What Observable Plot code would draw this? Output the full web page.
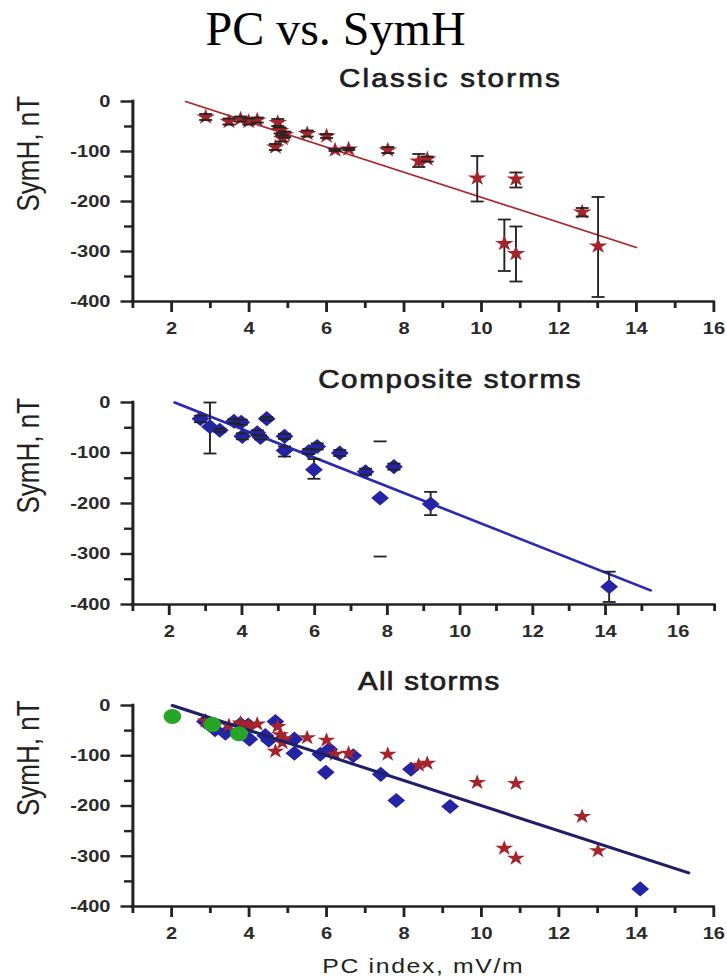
<!DOCTYPE html>
<html>
<head>
<meta charset="utf-8">
<script src="https://cdn.jsdelivr.net/npm/d3@7"></script>
<script src="https://cdn.jsdelivr.net/npm/@observablehq/plot@0.6"></script>
<style>
html, body { margin: 0; padding: 0; background: #fff; overflow: hidden; }
#wrap { position: relative; width: 727px; height: 979px; background: #fff; }
#wrap svg { position: absolute; left: 0; }
#title { position: absolute; left: 0; top: 5px; width: 671px; text-align: center;
  font-family: "Liberation Serif", "Times New Roman", serif; font-size: 48px; line-height: 48px; color: #000; z-index: 2; }
</style>
</head>
<body>
<div id="wrap"><div id="title">PC vs. SymH</div></div>
<script>
// ---------- data ----------
const titleText = "PC vs. SymH";
const subtitles = ["Classic storms", "Composite storms", "All storms"];
const yLabel = "SymH, nT";
const xLabel = "PC index, mV/m";

// Classic storms (stars) with error-bar limits
const classicPC   = [2.88, 3.48, 3.78, 3.99, 4.21, 4.74, 4.80, 4.92, 4.86, 4.68, 5.50, 6.00, 6.22, 6.57, 7.58, 8.38, 8.60, 9.89, 10.59, 10.89, 10.89, 12.60, 13.01];
const classicSymH = [-31, -40, -35, -40, -37, -42, -58, -66, -74, -91, -64, -69, -97, -95, -97, -119, -115, -153, -284, -304, -155, -221, -289];
const classicLo   = [-37, -46, -40, -46, -42, -49, -64, -72, -80, -97, -70, -73, -99, -97, -103, -131, -120, -200, -339, -360, -172, -230, -391];
const classicHi   = [-25, -34, -30, -34, -32, -35, -52, -60, -68, -85, -58, -65, -95, -93, -91, -105, -110, -109, -236, -250, -142, -213, -191];

// Composite storms (diamonds) with error-bar limits
const compPC   = [2.86, 3.12, 3.39, 3.78, 3.98, 4.68, 4.01, 4.42, 4.51, 5.17, 5.17, 5.84, 6.07, 5.98, 6.69, 7.40, 7.80, 8.18, 9.19, 14.10];
const compSymH = [-32, -48, -55, -37, -39, -32, -67, -60, -69, -67, -95, -97, -87, -133, -100, -137, -189, -127, -201, -365];
const compLo   = [-39, -101, -58, -41, -44, -35, -73, -65, -73, -72, -107, -102, -93, -151, -106, -143, -305, -133, -223, -395];
const compHi   = [-26, 0, -52, -33, -34, -29, -61, -55, -65, -62, -87, -92, -81, -112, -94, -131, -77, -121, -177, -335];
const compStem = [true, true, true, true, true, true, true, true, true, true, true, true, true, true, true, true, false, true, true, true];

// Extra points in "All storms" (green circles)
const quietPC   = [2.02, 3.05, 3.74];
const quietSymH = [-22, -38, -56];

// Regression lines (end points)
const fitClassicPC = [2.36, 14.0],  fitClassicSymH = [0, -292];
const fitCompPC    = [2.15, 15.24], fitCompSymH    = [0, -372];
const fitAllPC     = [2.02, 15.35], fitAllSymH     = [0, -333];

// Ticks
const yMajorTicks = [0, -100, -200, -300, -400];
const yMinorTicks = [-50, -150, -250, -350];
const xLabelTicks = [2, 4, 6, 8, 10, 12, 14, 16];

// ---------- build ----------
const W = 727, S = 1.18, WV = W / S;
const ink = "#222";
const starRed = "#a5232b";
const diamondBlue = "#2424a4";
const green = "#26a526";

const classic = classicPC.map((x, i) => ({x, y: classicSymH[i], lo: classicLo[i], hi: classicHi[i]}));
const comp = compPC.map((x, i) => ({x, y: compSymH[i], lo: compLo[i], hi: compHi[i], stem: compStem[i]}));
const quiet = quietPC.map((x, i) => ({x, y: quietSymH[i]}));
const toLine = (xs, ys) => xs.map((x, i) => ({x, y: ys[i]}));

const capSymbol = {
  draw(ctx, size) { const r = Math.sqrt(size / Math.PI); ctx.moveTo(-r, 0); ctx.lineTo(r, 0); }
};

function errorBars(data) {
  return [
    Plot.ruleX(data.filter(d => d.stem !== false), {x: "x", y1: "lo", y2: "hi", stroke: ink, strokeWidth: 1.6})
  ];
}
function caps(data) {
  return [
    Plot.dot(data, {x: "x", y: "lo", symbol: capSymbol, r: 5.5, stroke: ink, strokeWidth: 1.8, fill: "none"}),
    Plot.dot(data, {x: "x", y: "hi", symbol: capSymbol, r: 5.5, stroke: ink, strokeWidth: 1.8, fill: "none"})
  ];
}

const wrap = document.getElementById("wrap");

function makePanel({top, innerH, mb, xmax, mrReal, subtitle, subDx, subDy, subSpacing, marks, withXLabel}) {
  const H = 60 + innerH + mb;
  const xAll = d3.range(1, xmax + 1);
  const xMinor = xAll.filter(v => !xLabelTicks.includes(v));
  const tickStyle = {stroke: ink, strokeWidth: 2.4, fill: "#2a2a2a", fontSize: 17, fontWeight: "bold", label: null};
  const svg = Plot.plot({
    width: WV, height: H,
    marginTop: 60, marginBottom: mb, marginLeft: 132.3 / S, marginRight: mrReal / S,
    x: {domain: [1, xmax]},
    y: {domain: [-400, 0]},
    style: {fontFamily: "'Liberation Sans', Arial, sans-serif", background: "transparent", overflow: "visible"},
    marks: [
      ...marks,
      Plot.axisY(yMinorTicks, {...tickStyle, tickSize: 7, tickFormat: () => ""}),
      Plot.axisY(yMajorTicks, {...tickStyle, tickSize: 10, tickPadding: 9, tickFormat: d => String(d)}),
      Plot.axisX(xMinor, {...tickStyle, tickSize: 7, tickFormat: () => ""}),
      Plot.axisX(xLabelTicks, {...tickStyle, tickSize: 11, tickPadding: 9, tickFormat: d => String(d)}),
      Plot.ruleX([1], {stroke: ink, strokeWidth: 2.6, strokeLinecap: "square"}),
      Plot.ruleY([-400], {stroke: ink, strokeWidth: 2.6, strokeLinecap: "square"}),
      Plot.text([subtitle], {text: d => d, frameAnchor: "top", dx: subDx, dy: subDy, fontSize: 25, fill: "#1e1e1e", stroke: "#1e1e1e", strokeWidth: 0.7, lineAnchor: "middle"}),
      Plot.text([yLabel], {text: d => d, frameAnchor: "left", rotate: -90, dx: -88, dy: 10, fontSize: 26, fill: "#222", lineAnchor: "middle"}),
      withXLabel ? Plot.text([xLabel], {text: d => d, frameAnchor: "bottom", dy: 60, fontSize: 21, fill: "#222", lineAnchor: "middle"}) : null
    ]
  });
  svg.setAttribute("width", W);
  svg.setAttribute("height", H);
  svg.setAttribute("preserveAspectRatio", "none");
  svg.style.width = W + "px";
  svg.style.height = H + "px";
  svg.style.maxWidth = "none";
  svg.style.top = top + "px";
  d3.select(svg).selectAll("text").filter(function() { return this.textContent === xLabel; })
    .style("letter-spacing", "1.4px");
  d3.select(svg).selectAll("text").filter(function() { return this.textContent === subtitle; })
    .style("letter-spacing", subSpacing + "px");
  wrap.appendChild(svg);
}

makePanel({
  top: 41, innerH: 200, mb: 40, xmax: 16, mrReal: 13.7,
  subtitle: subtitles[0], subDx: 23, subDy: -23, subSpacing: 1.9,
  marks: [
    Plot.line(toLine(fitClassicPC, fitClassicSymH), {x: "x", y: "y", stroke: "#a8262c", strokeWidth: 1.6}),
    ...errorBars(classic),
    Plot.dot(classic, {x: "x", y: "y", symbol: "star", r: 5, fill: starRed}),
    ...caps(classic)
  ]
});

makePanel({
  top: 342, innerH: 202, mb: 40, xmax: 17, mrReal: 13,
  subtitle: subtitles[1], subDx: 22.4, subDy: -23, subSpacing: 1.4,
  marks: [
    Plot.line(toLine(fitCompPC, fitCompSymH), {x: "x", y: "y", stroke: "#2a2ab2", strokeWidth: 2.6}),
    ...errorBars(comp),
    Plot.dot(comp, {x: "x", y: "y", symbol: "diamond2", r: 6.8, fill: diamondBlue}),
    ...caps(comp)
  ]
});

makePanel({
  top: 645, innerH: 201, mb: 73, xmax: 16, mrReal: 13.8,
  subtitle: subtitles[2], subDx: 5, subDy: -24, subSpacing: 1.1, withXLabel: true,
  marks: [
    Plot.dot(comp, {x: "x", y: "y", symbol: "diamond2", r: 6.8, fill: diamondBlue}),
    Plot.dot(classic, {x: "x", y: "y", symbol: "star", r: 4.8, fill: starRed}),
    Plot.line(toLine(fitAllPC, fitAllSymH), {x: "x", y: "y", stroke: "#1f1f68", strokeWidth: 3}),
    Plot.dot(quiet, {x: "x", y: "y", r: 7.5, fill: green})
  ]
});
</script>
</body>
</html>
